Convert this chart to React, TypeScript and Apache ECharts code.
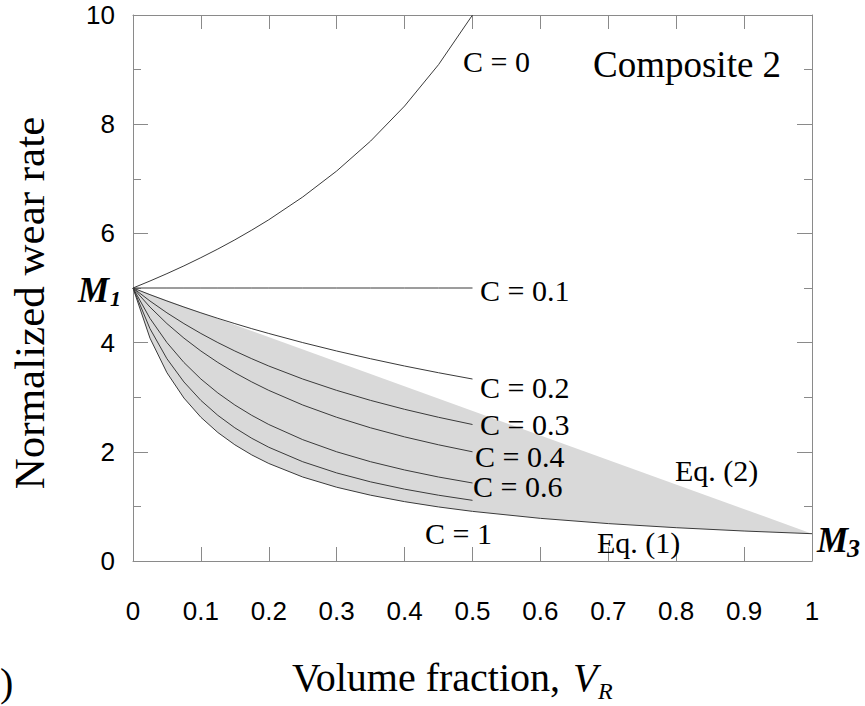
import React, { useEffect, useRef } from 'react';
import * as echarts from 'echarts';

// Volume fraction V_R sample positions
const vr = [0, 0.025, 0.05, 0.075, 0.1, 0.125, 0.15, 0.175, 0.2, 0.25, 0.3, 0.35, 0.4, 0.45, 0.5];
const vrFull = [0, 0.025, 0.05, 0.075, 0.1, 0.125, 0.15, 0.175, 0.2, 0.25, 0.3, 0.35, 0.4, 0.45, 0.5, 0.6, 0.7, 0.8, 0.9, 1.0];

// Normalized wear rate
const wearC0 = [5, 5.128, 5.263, 5.405, 5.556, 5.714, 5.882, 6.061, 6.25, 6.667, 7.143, 7.692, 8.333, 9.091, 10];
const wearC01 = [5, 5, 5, 5, 5, 5, 5, 5, 5, 5, 5, 5, 5, 5, 5];
const wearC02 = [5, 4.878, 4.762, 4.651, 4.545, 4.444, 4.348, 4.255, 4.167, 4.0, 3.846, 3.704, 3.571, 3.448, 3.333];
const wearC03 = [5, 4.762, 4.545, 4.348, 4.167, 4.0, 3.846, 3.704, 3.571, 3.333, 3.125, 2.941, 2.778, 2.632, 2.5];
const wearC04 = [5, 4.651, 4.348, 4.082, 3.846, 3.636, 3.448, 3.279, 3.125, 2.857, 2.632, 2.439, 2.273, 2.128, 2.0];
const wearC06 = [5, 4.444, 4.0, 3.636, 3.333, 3.077, 2.857, 2.667, 2.5, 2.222, 2.0, 1.818, 1.667, 1.538, 1.429];
const wearC08 = [5, 4.255, 3.704, 3.279, 2.941, 2.667, 2.439, 2.247, 2.083, 1.818, 1.613, 1.449, 1.316, 1.205, 1.111];
const wearC1 = [5, 4.082, 3.448, 2.985, 2.632, 2.353, 2.128, 1.942, 1.786, 1.538, 1.351, 1.205, 1.087, 0.99, 0.909, 0.781, 0.685, 0.61, 0.549, 0.5];

// Eq. (2): straight line from M1 to M3
const eq2X = [0, 1];
const eq2Y = [5, 0.5];

const SERIF = '"Liberation Serif", "Times New Roman", serif';
const SANS = '"Liberation Sans", Arial, sans-serif';

export default function App() {
  const ref = useRef<HTMLDivElement>(null);

  useEffect(() => {
    const chart = echarts.init(ref.current as HTMLDivElement, null, { renderer: 'svg' });
    const pair = (xs: number[], ys: number[]) => ys.map((y, i) => [xs[i], y]);

    const curves = [
      { name: 'C = 0', data: pair(vr, wearC0) },
      { name: 'C = 0.1', data: pair(vr, wearC01) },
      { name: 'C = 0.2', data: pair(vr, wearC02) },
      { name: 'C = 0.3', data: pair(vr, wearC03) },
      { name: 'C = 0.4', data: pair(vr, wearC04) },
      { name: 'C = 0.6', data: pair(vr, wearC06) },
      { name: 'C = 0.8', data: pair(vr, wearC08) },
      { name: 'C = 1', data: pair(vrFull, wearC1) },
    ];

    const bandPoly = [...pair(eq2X, eq2Y), ...pair(vrFull, wearC1).reverse()];

    const axisColor = '#8a8a8a';
    const lineColor = '#3a3a3a';

    const xAxisBase = {
      type: 'value',
      min: 0,
      max: 1,
      interval: 0.1,
      splitLine: { show: false },
      axisLine: { show: true, onZero: false, lineStyle: { color: axisColor, width: 1 } },
      axisTick: { show: true, inside: true, length: 14, lineStyle: { color: axisColor, width: 1 } },
    };
    const yAxisBase = {
      type: 'value',
      min: 0,
      max: 10,
      interval: 2,
      splitLine: { show: false },
      axisLine: { show: true, onZero: false, lineStyle: { color: axisColor, width: 1 } },
      axisTick: { show: true, inside: true, length: 15, lineStyle: { color: axisColor, width: 1 } },
      minorTick: { show: true, splitNumber: 2, length: 8, lineStyle: { color: axisColor, width: 1 } },
      minorSplitLine: { show: false },
    };

    const txt = (
      text: string,
      x: number,
      y: number,
      font: string,
      align: string = 'left',
      extra: any = {}
    ) => ({
      type: 'text',
      x,
      y,
      z: 10,
      silent: true,
      ...extra,
      style: {
        text,
        font,
        fill: '#000',
        align,
        verticalAlign: 'middle',
        textAlign: align,
        textVerticalAlign: 'middle',
      },
    });

    const labelFont = `30px ${SERIF}`;
    const mFont = `italic bold 35px ${SERIF}`;

    const option: any = {
      animation: false,
      backgroundColor: '#fff',
      grid: { left: 133, top: 15, width: 679, height: 546, containLabel: false },
      xAxis: [
        {
          ...xAxisBase,
          position: 'bottom',
          axisLabel: { show: true, margin: 37, fontSize: 26, fontFamily: SANS, color: '#000' },
        },
        { ...xAxisBase, position: 'top', axisLabel: { show: false } },
      ],
      yAxis: [
        {
          ...yAxisBase,
          position: 'left',
          axisLabel: { show: true, margin: 18, fontSize: 26, fontFamily: SANS, color: '#000' },
        },
        { ...yAxisBase, position: 'right', axisLabel: { show: false } },
      ],
      series: [
        {
          type: 'custom',
          name: 'band',
          xAxisIndex: 0,
          yAxisIndex: 0,
          silent: true,
          clip: true,
          z: 1,
          data: [[0, 0]],
          renderItem: (_params: any, api: any) => {
            const pts = bandPoly.map((p) => api.coord(p));
            return { type: 'polygon', shape: { points: pts }, style: { fill: '#d9d9d9', stroke: null } };
          },
        },
        ...curves.map((c) => ({
          type: 'line',
          name: c.name,
          xAxisIndex: 0,
          yAxisIndex: 0,
          data: c.data,
          showSymbol: false,
          symbol: 'none',
          smooth: false,
          silent: true,
          z: 3,
          lineStyle: { color: lineColor, width: 1 },
        })),
      ],
      graphic: [
        txt('Normalized wear rate', 29, 303, `43px ${SERIF}`, 'center', { rotation: Math.PI / 2 }),
        txt('Volume fraction,', 292, 677, `40px ${SERIF}`),
        txt('V', 573, 677, `italic 40px ${SERIF}`),
        txt('R', 598, 691, `italic 24px ${SERIF}`),
        txt(')', 0, 682, `40px ${SERIF}`),
        txt('Composite 2', 593, 64, `37px ${SERIF}`),
        txt('C = 0', 463, 61, labelFont),
        txt('C = 0.1', 480, 290, labelFont),
        txt('C = 0.2', 480, 387, labelFont),
        txt('C = 0.3', 480, 424, labelFont),
        txt('C = 0.4', 475, 456, labelFont),
        txt('C = 0.6', 473, 486, labelFont),
        txt('C = 1', 425, 533, labelFont),
        txt('Eq. (2)', 675, 470, labelFont),
        txt('Eq. (1)', 597, 542, labelFont),
        txt('M', 78, 290, mFont),
        txt('1', 110, 298, `italic bold 22px ${SERIF}`),
        txt('M', 817, 540, mFont),
        txt('3', 847, 548, `italic bold 26px ${SERIF}`),
      ],
    };

    chart.setOption(option);
    return () => chart.dispose();
  }, []);

  return (
    <div
      ref={ref}
      style={{ position: 'fixed', left: 0, top: 0, width: 865, height: 706, background: '#fff' }}
    />
  );
}
